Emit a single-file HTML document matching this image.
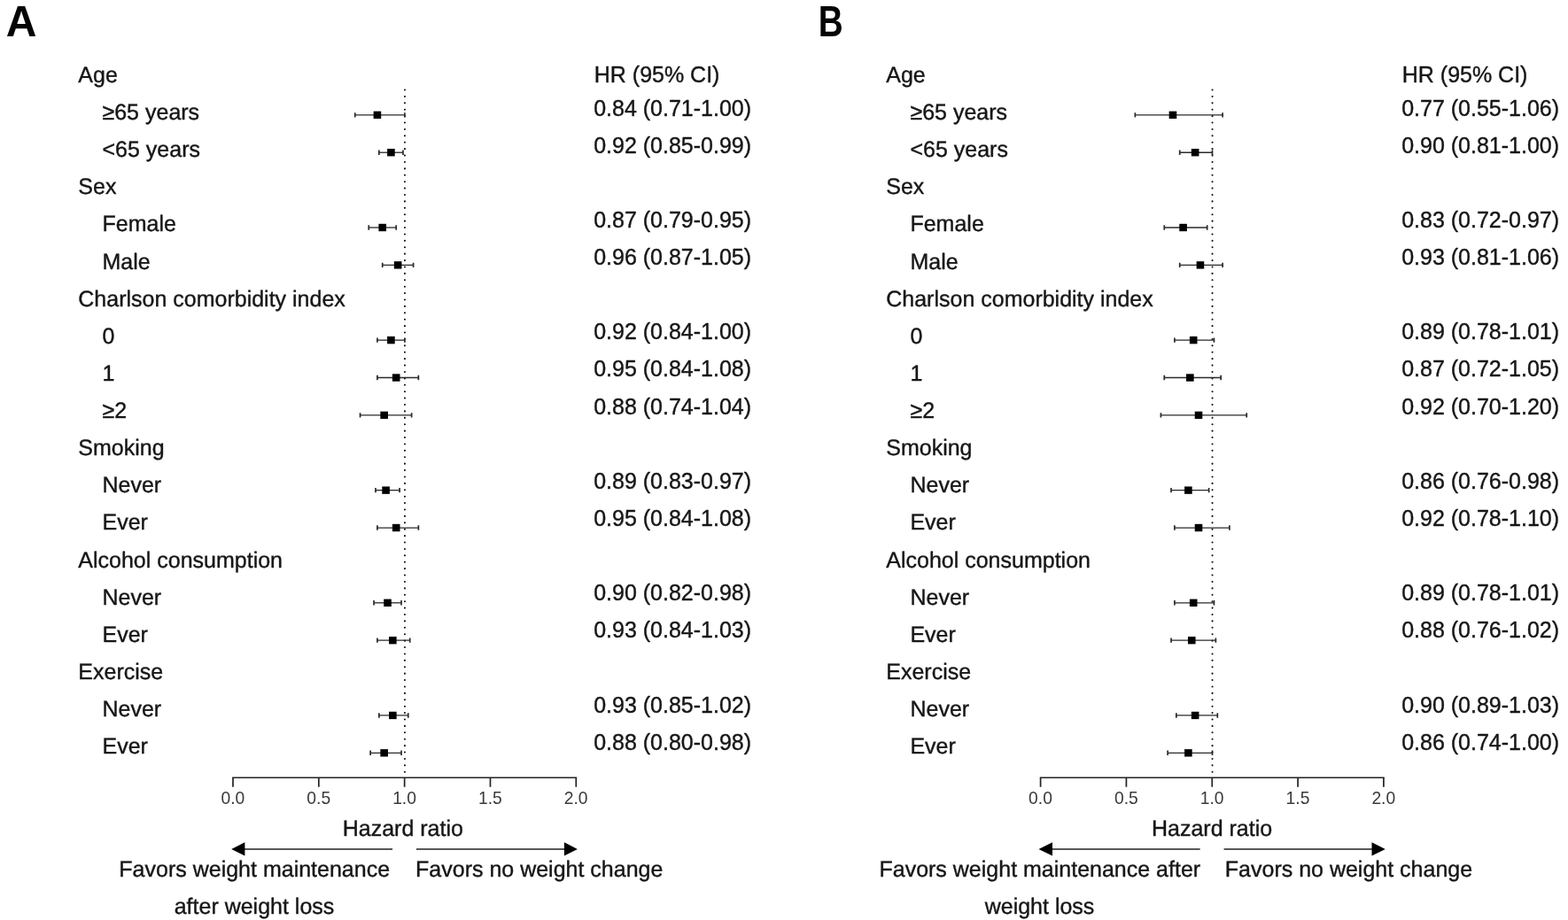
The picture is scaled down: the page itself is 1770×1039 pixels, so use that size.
<!DOCTYPE html>
<html lang="en">
<head>
<meta charset="utf-8">
<title>Forest plot: subgroup hazard ratios</title>
<style>
html,body{margin:0;padding:0;background:#fff;}
body{width:1770px;height:1039px;overflow:hidden;}
svg{display:block;}
text{font-family:"Liberation Sans","DejaVu Sans",sans-serif;fill:#161616;stroke:#161616;stroke-width:0.4px;stroke-linejoin:round;}
.t{font-size:25px;}
.mid{text-anchor:middle;}
.g{text-rendering:geometricPrecision;}
.tk{font-size:20.2px;text-anchor:middle;fill:#3a3a3a;stroke:none;}
.pl{font-size:49.3px;font-weight:bold;fill:#050505;stroke:none;text-rendering:geometricPrecision;}
.dot{stroke:#111;stroke-width:2.1;stroke-dasharray:0.01 7.396;stroke-linecap:round;fill:none;}
.eb{stroke:#2a2a2a;stroke-width:1.3;fill:none;}
.cap{stroke:#2a2a2a;stroke-width:1.7;fill:none;}
.ax{stroke:#222;stroke-width:1.45;fill:none;}
.tick{stroke:#222;stroke-width:1.7;fill:none;}
.sq{fill:#000;}
.ah{fill:#000;}
</style>
</head>
<body>
<svg width="1770" height="1039" viewBox="0 0 1770 1039">
<rect x="0" y="0" width="1770" height="1039" fill="#ffffff"/>
<g id="panel-a">
<text class="pl" transform="translate(6.85 41) scale(0.975 1)">A</text>
<text class="t" x="670.75" y="93">HR (95% CI)</text>
<line class="dot" x1="456.95" y1="101.52" x2="456.95" y2="873"/>
<text class="t g" transform="translate(88.3 93) scale(1 1.012)">Age</text>
<text class="t g" transform="translate(115.5 135) scale(1 1.012)">≥65 years</text>
<text class="t" x="670.15" y="131">0.84 (0.71-1.00)</text>
<path class="eb" d="M400.74 129.85H456.9"/>
<path class="cap" d="M400.74 127.15V132.55M456.9 127.15V132.55"/>
<rect class="sq" x="421.62" y="125.65" width="8.6" height="8.4"/>
<text class="t g" transform="translate(115.5 177) scale(1 1.012)">&lt;65 years</text>
<text class="t" x="670.15" y="173">0.92 (0.85-0.99)</text>
<path class="eb" d="M427.85 172.23H454.96"/>
<path class="cap" d="M427.85 169.53V174.93M454.96 169.53V174.93"/>
<rect class="sq" x="437.11" y="168.03" width="8.6" height="8.4"/>
<text class="t g" transform="translate(88.3 219) scale(1 1.012)">Sex</text>
<text class="t g" transform="translate(115.5 261) scale(1 1.012)">Female</text>
<text class="t" x="670.15" y="257">0.87 (0.79-0.95)</text>
<path class="eb" d="M416.23 256.99H447.22"/>
<path class="cap" d="M416.23 254.29V259.69M447.22 254.29V259.69"/>
<rect class="sq" x="427.43" y="252.79" width="8.6" height="8.4"/>
<text class="t g" transform="translate(115.5 304) scale(1 1.012)">Male</text>
<text class="t" x="670.15" y="299">0.96 (0.87-1.05)</text>
<path class="eb" d="M431.73 299.37H466.58"/>
<path class="cap" d="M431.73 296.67V302.07M466.58 296.67V302.07"/>
<rect class="sq" x="444.85" y="295.17" width="8.6" height="8.4"/>
<text class="t g" transform="translate(88.3 346) scale(1 1.012)">Charlson comorbidity index</text>
<text class="t g" transform="translate(115.5 388) scale(1 1.012)">0</text>
<text class="t" x="670.15" y="383">0.92 (0.84-1.00)</text>
<path class="eb" d="M425.92 384.13H456.9"/>
<path class="cap" d="M425.92 381.43V386.83M456.9 381.43V386.83"/>
<rect class="sq" x="437.11" y="379.93" width="8.6" height="8.4"/>
<text class="t g" transform="translate(115.5 430) scale(1 1.012)">1</text>
<text class="t" x="670.15" y="425">0.95 (0.84-1.08)</text>
<path class="eb" d="M425.92 426.51H472.39"/>
<path class="cap" d="M425.92 423.81V429.21M472.39 423.81V429.21"/>
<rect class="sq" x="442.92" y="422.31" width="8.6" height="8.4"/>
<text class="t g" transform="translate(115.5 472) scale(1 1.012)">≥2</text>
<text class="t" x="670.15" y="468">0.88 (0.74-1.04)</text>
<path class="eb" d="M406.55 468.89H464.65"/>
<path class="cap" d="M406.55 466.19V471.59M464.65 466.19V471.59"/>
<rect class="sq" x="429.36" y="464.69" width="8.6" height="8.4"/>
<text class="t g" transform="translate(88.3 514) scale(1 1.012)">Smoking</text>
<text class="t g" transform="translate(115.5 556) scale(1 1.012)">Never</text>
<text class="t" x="670.15" y="552">0.89 (0.83-0.97)</text>
<path class="eb" d="M423.98 553.65H451.09"/>
<path class="cap" d="M423.98 550.95V556.35M451.09 550.95V556.35"/>
<rect class="sq" x="431.3" y="549.45" width="8.6" height="8.4"/>
<text class="t g" transform="translate(115.5 598) scale(1 1.012)">Ever</text>
<text class="t" x="670.15" y="594">0.95 (0.84-1.08)</text>
<path class="eb" d="M425.92 596.03H472.39"/>
<path class="cap" d="M425.92 593.33V598.73M472.39 593.33V598.73"/>
<rect class="sq" x="442.92" y="591.83" width="8.6" height="8.4"/>
<text class="t g" transform="translate(88.3 641) scale(1 1.012)">Alcohol consumption</text>
<text class="t g" transform="translate(115.5 683) scale(1 1.012)">Never</text>
<text class="t" x="670.15" y="678">0.90 (0.82-0.98)</text>
<path class="eb" d="M422.04 680.79H453.03"/>
<path class="cap" d="M422.04 678.09V683.49M453.03 678.09V683.49"/>
<rect class="sq" x="433.23" y="676.59" width="8.6" height="8.4"/>
<text class="t g" transform="translate(115.5 725) scale(1 1.012)">Ever</text>
<text class="t" x="670.15" y="720">0.93 (0.84-1.03)</text>
<path class="eb" d="M425.92 723.17H462.71"/>
<path class="cap" d="M425.92 720.47V725.87M462.71 720.47V725.87"/>
<rect class="sq" x="439.04" y="718.97" width="8.6" height="8.4"/>
<text class="t g" transform="translate(88.3 767) scale(1 1.012)">Exercise</text>
<text class="t g" transform="translate(115.5 809) scale(1 1.012)">Never</text>
<text class="t" x="670.15" y="805">0.93 (0.85-1.02)</text>
<path class="eb" d="M427.85 807.93H460.77"/>
<path class="cap" d="M427.85 805.23V810.63M460.77 805.23V810.63"/>
<rect class="sq" x="439.04" y="803.73" width="8.6" height="8.4"/>
<text class="t g" transform="translate(115.5 851) scale(1 1.012)">Ever</text>
<text class="t" x="670.15" y="847">0.88 (0.80-0.98)</text>
<path class="eb" d="M418.17 850.31H453.03"/>
<path class="cap" d="M418.17 847.61V853.01M453.03 847.61V853.01"/>
<rect class="sq" x="429.36" y="846.11" width="8.6" height="8.4"/>
<path class="ax" d="M262.2 878.15H651.1"/>
<path class="tick" d="M263 878.15V888.75M359.82 878.15V888.75M456.65 878.15V888.75M553.48 878.15V888.75M650.3 878.15V888.75"/>
<text class="tk" transform="translate(262.9 908) scale(0.955 1)">0.0</text>
<text class="tk" transform="translate(359.72 908) scale(0.955 1)">0.5</text>
<text class="tk" transform="translate(456.55 908) scale(0.955 1)">1.0</text>
<text class="tk" transform="translate(553.38 908) scale(0.955 1)">1.5</text>
<text class="tk" transform="translate(650.2 908) scale(0.955 1)">2.0</text>
<text class="t g mid" transform="translate(454.8 944) scale(1 1.012)">Hazard ratio</text>
<path class="ax" d="M275 958.9H443.05M469.95 958.9H638.3"/>
<path class="ah" d="M261.2 958.9L276.4 951.2v15.4zM651.9 958.9L636.9 951.2v15.4z"/>
<text class="t g mid" transform="translate(287.2 990) scale(1 1.012)">Favors weight maintenance</text>
<text class="t g mid" transform="translate(287 1032) scale(1 1.012)">after weight loss</text>
<text class="t g" transform="translate(469.05 990) scale(1 1.012)">Favors no weight change</text>
</g>
<g id="panel-b">
<text class="pl" transform="translate(923.8 41) scale(0.785 1)">B</text>
<text class="t" x="1582.75" y="93">HR (95% CI)</text>
<line class="dot" x1="1368.55" y1="101.52" x2="1368.55" y2="873"/>
<text class="t g" transform="translate(1000.25 93) scale(1 1.012)">Age</text>
<text class="t g" transform="translate(1027.45 135) scale(1 1.012)">≥65 years</text>
<text class="t" x="1582.15" y="131">0.77 (0.55-1.06)</text>
<path class="eb" d="M1281.36 129.85H1380.12"/>
<path class="cap" d="M1281.36 127.15V132.55M1380.12 127.15V132.55"/>
<rect class="sq" x="1319.66" y="125.65" width="8.6" height="8.4"/>
<text class="t g" transform="translate(1027.45 177) scale(1 1.012)">&lt;65 years</text>
<text class="t" x="1582.15" y="173">0.90 (0.81-1.00)</text>
<path class="eb" d="M1331.71 172.23H1368.5"/>
<path class="cap" d="M1331.71 169.53V174.93M1368.5 169.53V174.93"/>
<rect class="sq" x="1344.84" y="168.03" width="8.6" height="8.4"/>
<text class="t g" transform="translate(1000.25 219) scale(1 1.012)">Sex</text>
<text class="t g" transform="translate(1027.45 261) scale(1 1.012)">Female</text>
<text class="t" x="1582.15" y="257">0.83 (0.72-0.97)</text>
<path class="eb" d="M1314.28 256.99H1362.69"/>
<path class="cap" d="M1314.28 254.29V259.69M1362.69 254.29V259.69"/>
<rect class="sq" x="1331.28" y="252.79" width="8.6" height="8.4"/>
<text class="t g" transform="translate(1027.45 304) scale(1 1.012)">Male</text>
<text class="t" x="1582.15" y="299">0.93 (0.81-1.06)</text>
<path class="eb" d="M1331.71 299.37H1380.12"/>
<path class="cap" d="M1331.71 296.67V302.07M1380.12 296.67V302.07"/>
<rect class="sq" x="1350.64" y="295.17" width="8.6" height="8.4"/>
<text class="t g" transform="translate(1000.25 346) scale(1 1.012)">Charlson comorbidity index</text>
<text class="t g" transform="translate(1027.45 388) scale(1 1.012)">0</text>
<text class="t" x="1582.15" y="383">0.89 (0.78-1.01)</text>
<path class="eb" d="M1325.9 384.13H1370.44"/>
<path class="cap" d="M1325.9 381.43V386.83M1370.44 381.43V386.83"/>
<rect class="sq" x="1342.9" y="379.93" width="8.6" height="8.4"/>
<text class="t g" transform="translate(1027.45 430) scale(1 1.012)">1</text>
<text class="t" x="1582.15" y="425">0.87 (0.72-1.05)</text>
<path class="eb" d="M1314.28 426.51H1378.18"/>
<path class="cap" d="M1314.28 423.81V429.21M1378.18 423.81V429.21"/>
<rect class="sq" x="1339.03" y="422.31" width="8.6" height="8.4"/>
<text class="t g" transform="translate(1027.45 472) scale(1 1.012)">≥2</text>
<text class="t" x="1582.15" y="468">0.92 (0.70-1.20)</text>
<path class="eb" d="M1310.4 468.89H1407.23"/>
<path class="cap" d="M1310.4 466.19V471.59M1407.23 466.19V471.59"/>
<rect class="sq" x="1348.71" y="464.69" width="8.6" height="8.4"/>
<text class="t g" transform="translate(1000.25 514) scale(1 1.012)">Smoking</text>
<text class="t g" transform="translate(1027.45 556) scale(1 1.012)">Never</text>
<text class="t" x="1582.15" y="552">0.86 (0.76-0.98)</text>
<path class="eb" d="M1322.02 553.65H1364.63"/>
<path class="cap" d="M1322.02 550.95V556.35M1364.63 550.95V556.35"/>
<rect class="sq" x="1337.09" y="549.45" width="8.6" height="8.4"/>
<text class="t g" transform="translate(1027.45 598) scale(1 1.012)">Ever</text>
<text class="t" x="1582.15" y="594">0.92 (0.78-1.10)</text>
<path class="eb" d="M1325.9 596.03H1387.87"/>
<path class="cap" d="M1325.9 593.33V598.73M1387.87 593.33V598.73"/>
<rect class="sq" x="1348.71" y="591.83" width="8.6" height="8.4"/>
<text class="t g" transform="translate(1000.25 641) scale(1 1.012)">Alcohol consumption</text>
<text class="t g" transform="translate(1027.45 683) scale(1 1.012)">Never</text>
<text class="t" x="1582.15" y="678">0.89 (0.78-1.01)</text>
<path class="eb" d="M1325.9 680.79H1370.44"/>
<path class="cap" d="M1325.9 678.09V683.49M1370.44 678.09V683.49"/>
<rect class="sq" x="1342.9" y="676.59" width="8.6" height="8.4"/>
<text class="t g" transform="translate(1027.45 725) scale(1 1.012)">Ever</text>
<text class="t" x="1582.15" y="720">0.88 (0.76-1.02)</text>
<path class="eb" d="M1322.02 723.17H1372.37"/>
<path class="cap" d="M1322.02 720.47V725.87M1372.37 720.47V725.87"/>
<rect class="sq" x="1340.96" y="718.97" width="8.6" height="8.4"/>
<text class="t g" transform="translate(1000.25 767) scale(1 1.012)">Exercise</text>
<text class="t g" transform="translate(1027.45 809) scale(1 1.012)">Never</text>
<text class="t" x="1582.15" y="805">0.90 (0.89-1.03)</text>
<path class="eb" d="M1327.83 807.93H1374.31"/>
<path class="cap" d="M1327.83 805.23V810.63M1374.31 805.23V810.63"/>
<rect class="sq" x="1344.84" y="803.73" width="8.6" height="8.4"/>
<text class="t g" transform="translate(1027.45 851) scale(1 1.012)">Ever</text>
<text class="t" x="1582.15" y="847">0.86 (0.74-1.00)</text>
<path class="eb" d="M1318.15 850.31H1368.5"/>
<path class="cap" d="M1318.15 847.61V853.01M1368.5 847.61V853.01"/>
<rect class="sq" x="1337.09" y="846.11" width="8.6" height="8.4"/>
<path class="ax" d="M1173.8 878.15H1562.7"/>
<path class="tick" d="M1174.6 878.15V888.75M1271.42 878.15V888.75M1368.25 878.15V888.75M1465.07 878.15V888.75M1561.9 878.15V888.75"/>
<text class="tk" transform="translate(1174.5 908) scale(0.955 1)">0.0</text>
<text class="tk" transform="translate(1271.33 908) scale(0.955 1)">0.5</text>
<text class="tk" transform="translate(1368.15 908) scale(0.955 1)">1.0</text>
<text class="tk" transform="translate(1464.97 908) scale(0.955 1)">1.5</text>
<text class="tk" transform="translate(1561.8 908) scale(0.955 1)">2.0</text>
<text class="t g mid" transform="translate(1368.05 944) scale(1 1.012)">Hazard ratio</text>
<path class="ax" d="M1186.6 958.9H1354.65M1381.55 958.9H1549.9"/>
<path class="ah" d="M1172.5 958.9L1188 951.2v15.4zM1563.8 958.9L1548.5 951.2v15.4z"/>
<text class="t g mid" transform="translate(1173.8 990) scale(1 1.012)">Favors weight maintenance after</text>
<text class="t g mid" transform="translate(1173.5 1032) scale(1 1.012)">weight loss</text>
<text class="t g" transform="translate(1382.8 990) scale(1 1.012)">Favors no weight change</text>
</g>
</svg>
</body>
</html>
